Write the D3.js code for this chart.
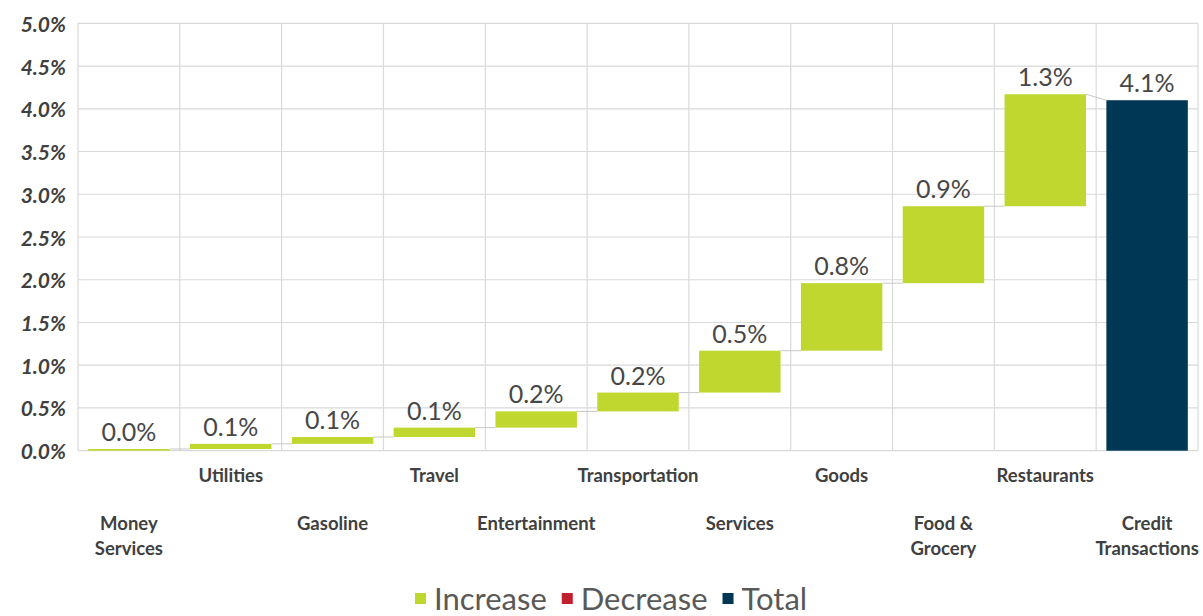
<!DOCTYPE html>
<html>
<head>
<meta charset="utf-8">
<script src="https://cdn.jsdelivr.net/npm/d3@7"></script>
<style>
  html, body { margin: 0; padding: 0; background: #fff; }
  svg { display: block; }
</style>
</head>
<body>
<svg id="chart" width="1203" height="616"></svg>
<script>
// Contribution of each category to growth in credit transactions (percentage points)
const categories = ["Money Services", "Utilities", "Gasoline", "Travel", "Entertainment",
  "Transportation", "Services", "Goods", "Food & Grocery", "Restaurants", "Credit Transactions"];
const increments = [0.02, 0.06, 0.08, 0.11, 0.19, 0.22, 0.49, 0.79, 0.90, 1.31];
const totalValue = 4.10;
const yTicks = [0, 0.5, 1.0, 1.5, 2.0, 2.5, 3.0, 3.5, 4.0, 4.5, 5.0];
const legendItems = ["Increase", "Decrease", "Total"];

const colors = { Increase: "#c0d72f", Decrease: "#c0202e", Total: "#003755" };

const svg = d3.select("#chart");
const plot = { left: 78, right: 1198, top: 23.3, bottom: 450.7 };

const x = d3.scaleBand().domain(categories).range([plot.left, plot.right])
  .paddingInner(0.2).paddingOuter(0.1);
const y = d3.scaleLinear().domain([0, 5]).range([plot.bottom, plot.top]);

// Build waterfall segments: running start/end for each increase, then the total bar
let running = 0;
const bars = increments.map((v, i) => {
  const seg = { cat: categories[i], start: running, end: running + v, value: v, type: "Increase" };
  running += v;
  return seg;
});
bars.push({ cat: categories[categories.length - 1], start: 0, end: totalValue, value: totalValue, type: "Total" });

const fmt = v => d3.format(".1f")(v) + "%";

// Gridlines
const grid = svg.append("g").attr("stroke", "#d9d9d9").attr("stroke-width", 1.2);
grid.selectAll("line.h").data(yTicks).join("line")
  .attr("x1", plot.left).attr("x2", plot.right)
  .attr("y1", d => y(d)).attr("y2", d => y(d));
const step = x.step();
const vlines = d3.range(categories.length + 1).map(i => plot.left + i * step);
grid.selectAll("line.v").data(vlines).join("line")
  .attr("x1", d => d).attr("x2", d => d)
  .attr("y1", plot.top).attr("y2", plot.bottom);

// Y axis labels
svg.append("g").selectAll("text").data(yTicks).join("text")
  .attr("x", 66).attr("y", d => y(d))
  .attr("text-anchor", "end").attr("dominant-baseline", "central")
  .attr("font-family", "Lato, sans-serif").attr("font-weight", 700).attr("font-style", "italic")
  .attr("font-size", 21).attr("fill", "#404040")
  .text(d => d3.format(".1f")(d) + "%");

// Connectors between bars
const conn = svg.append("g").attr("stroke", "#c8c8c8").attr("stroke-width", 1).attr("fill", "none");
for (let i = 0; i < bars.length - 1; i++) {
  const a = bars[i], b = bars[i + 1];
  conn.append("line")
    .attr("x1", x(a.cat) + x.bandwidth()).attr("y1", y(a.end))
    .attr("x2", x(b.cat)).attr("y2", y(b.type === "Total" ? b.end : b.start));
}

// Bars
svg.append("g").selectAll("rect").data(bars).join("rect")
  .attr("x", d => x(d.cat)).attr("width", x.bandwidth())
  .attr("y", d => y(d.end)).attr("height", d => Math.max(1, y(d.start) - y(d.end)))
  .attr("fill", d => colors[d.type]);

// Value labels
svg.append("g").selectAll("text").data(bars).join("text")
  .attr("x", d => x(d.cat) + x.bandwidth() / 2).attr("y", d => y(d.end) - 8)
  .attr("text-anchor", "middle")
  .attr("font-family", "Lato, sans-serif").attr("font-size", 25).attr("fill", "#474747")
  .text(d => fmt(d.value));

// Category labels, staggered over two rows
const catG = svg.append("g")
  .attr("font-family", "Lato, sans-serif").attr("font-weight", 700)
  .attr("font-size", 18.5).attr("fill", "#404040").attr("text-anchor", "middle");
const wrapLabel = s => {
  if (s === "Money Services") return ["Money", "Services"];
  if (s === "Food & Grocery") return ["Food &", "Grocery"];
  if (s === "Credit Transactions") return ["Credit", "Transactions"];
  return [s];
};
categories.forEach((c, i) => {
  const cx = x(c) + x.bandwidth() / 2;
  const base = i % 2 === 1 ? 481.5 : 529.5;
  const t = catG.append("text").attr("x", cx).attr("y", base);
  wrapLabel(c).forEach((line, j) => {
    t.append("tspan").attr("x", cx).attr("y", base + j * 25.7).text(line);
  });
});

// Legend
const leg = svg.append("g").attr("font-family", "Lato, sans-serif").attr("font-size", 31).attr("fill", "#595959");
let lx = 415;
legendItems.forEach(name => {
  leg.append("rect").attr("x", lx).attr("y", 593).attr("width", 11).attr("height", 11).attr("fill", colors[name]);
  const t = leg.append("text").attr("x", lx + 19).attr("y", 610).text(name);
  lx += 19 + t.node().getComputedTextLength() + 15;
});
</script>
</body>
</html>
